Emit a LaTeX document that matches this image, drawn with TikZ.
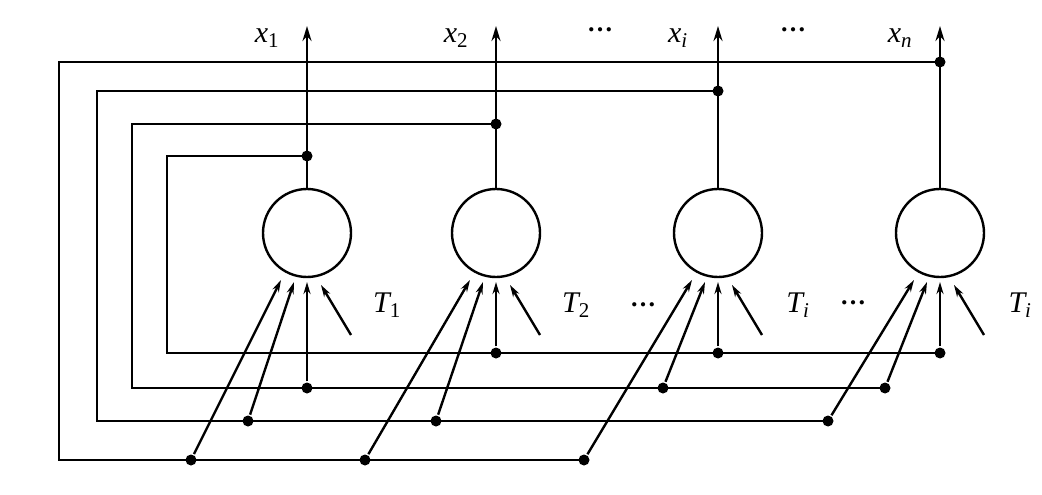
\RequirePackage{fix-cm}
\documentclass[tikz,border=0pt]{standalone}
\usepackage{fontspec}
\setmainfont{Liberation Serif}
\usetikzlibrary{arrows.meta,calc}

\begin{document}
\begin{tikzpicture}[x=1pt,y=-1pt,line width=2.4pt,>={Stealth[length=12pt,width=7pt]},
  neuron/.style={draw,circle,minimum size=88pt,inner sep=0pt},
  junc/.style={circle,fill,inner sep=0pt,minimum size=11pt},
  lbl/.style={inner sep=0pt,font=\fontsize{30}{34}\selectfont\itshape},
  dotlbl/.style={inner sep=0pt,font=\fontsize{26}{30}\selectfont\bfseries}]
\useasboundingbox (0,0) rectangle (1042,495);
\foreach \i/\xc/\ty/\lx/\by/\xlab/\tlab in {1/307/156/167/353/x\textsubscript{\upshape 1}/T\textsubscript{\upshape 1},2/496/124/132/388/x\textsubscript{\upshape 2}/T\textsubscript{\upshape 2},3/718/91/97/421/x\textsubscript{i}/T\textsubscript{i},4/940/62/59/460/x\textsubscript{n}/T\textsubscript{i}} {
  \node[neuron] (n\i) at (\xc,233) {};
  \coordinate (o\i) at (\xc,26);
  \draw[-{Stealth[length=15pt,width=9pt]}] (n\i) -- (o\i);
  \node[lbl] (x\i) at (\xc-40,38) {\xlab};
  \node[junc] (j\i) at (\xc,\ty) {};
  \coordinate (c\i) at (\lx,\by);
  \coordinate (n\i-a) at ($(n\i)+(-26,47)$);
  \coordinate (n\i-b) at ($(n\i)+(-13,49)$);
  \coordinate (n\i-c) at ($(n\i)+(0,49)$);
  \coordinate (n\i-d) at ($(n\i)+(14,52)$);
  \coordinate (s\i) at ($(n\i)+(44,102)$);
  \draw[->] (s\i) -- (n\i-d);
  \node[lbl] (T\i) at ($(n\i)+(80,72)$) {\tlab};
}
\foreach \b/\tx/\tg/\pn in {2/307/1/c,3/248/1/b,4/191/1/a,1/496/2/c,3/436/2/b,4/365/2/a,1/718/3/c,2/663/3/b,4/584/3/a,1/940/4/c,2/885/4/b,3/828/4/a} {
  \node[junc] (t\b\tg) at (\tx,0 |- c\b) {};
  \draw[->] (t\b\tg) -- (n\tg-\pn);
}
\foreach \b/\e in {1/14,2/24,3/34,4/43}
  \draw (j\b.center) -| (c\b) -- (t\e.center);
\node[dotlbl] (d1) at (600,30) {\symbol{"2026}};
\node[dotlbl] (d2) at (793,30) {\symbol{"2026}};
\node[dotlbl] (d3) at (643,305) {\symbol{"2026}};
\node[dotlbl] (d4) at (853,303) {\symbol{"2026}};
\end{tikzpicture}
\end{document}
